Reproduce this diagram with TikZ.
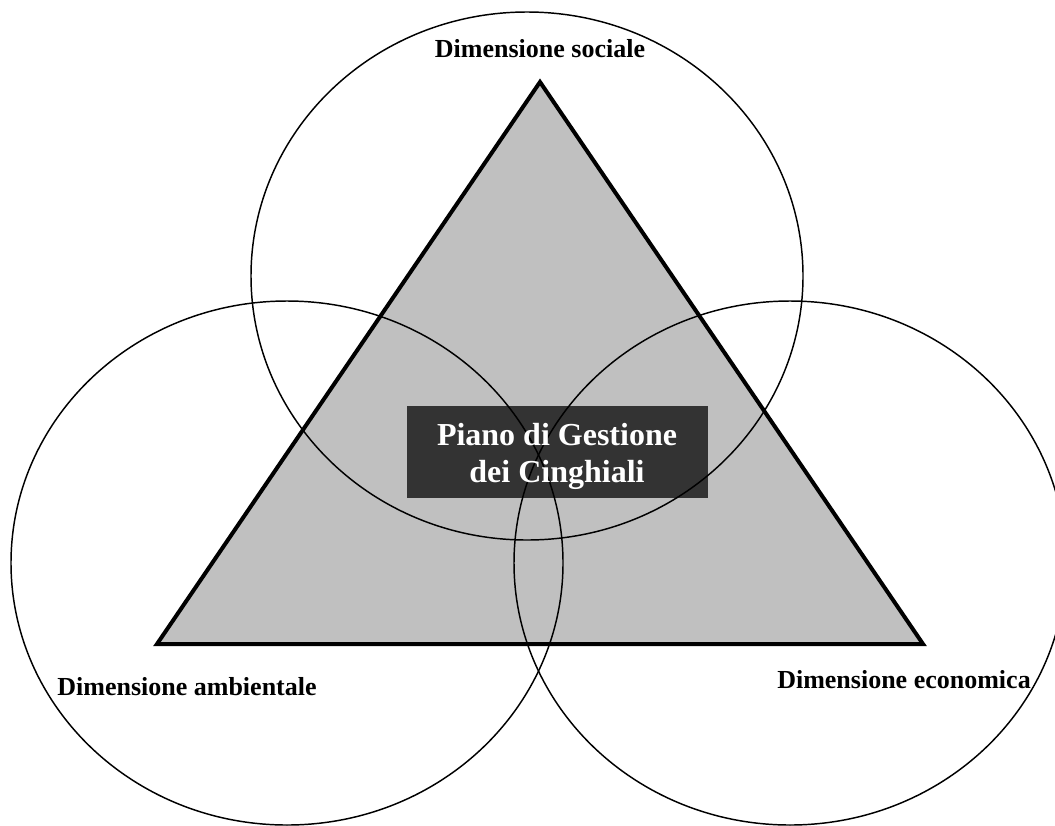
\documentclass[tikz,border=0pt]{standalone}
\usepackage{fontspec}
\setmainfont{Liberation Serif}
\usetikzlibrary{shapes.geometric}
\definecolor{trigray}{HTML}{C0C0C0}
\definecolor{boxgray}{HTML}{333333}
\begin{document}
\begin{tikzpicture}[x=0.75pt,y=-0.75pt,
  ring/.style={draw=black,line width=1.1pt},
  tri/.style={fill=trigray,draw=black,line width=3pt,line join=miter},
  dimlabel/.style={font=\bfseries\fontsize{19.5}{23}\selectfont,anchor=base,inner sep=0pt},
  darkbox/.style={fill=boxgray,draw=none,minimum width=225.75pt,minimum height=69pt,inner sep=0pt},
  title/.style={font=\bfseries\fontsize{24}{27.75}\selectfont,text=white,align=center,inner sep=0pt}]
\useasboundingbox (0,0) rectangle (1055,825);
\clip (0,0) rectangle (1055,825);
\coordinate (apex) at (540,82);
\coordinate (bl) at (157,644);
\coordinate (br) at (923,644);
\filldraw[tri] (apex) -- (bl) -- (br) -- cycle;
\node[darkbox] (box) at (557.5,452) {};
\draw[ring] (527,276) ellipse [x radius=276, y radius=264];
\draw[ring] (287,563) ellipse [x radius=276, y radius=262];
\draw[ring] (790,563) ellipse [x radius=276, y radius=262];
\node[title] (titletext) at (557,456) {Piano di Gestione\\dei Cinghiali};
\node[dimlabel] (sociale) at (540,57) {Dimensione sociale};
\node[dimlabel] (ambientale) at (187,695) {Dimensione ambientale};
\node[dimlabel] (economica) at (904,688) {Dimensione economica};
\end{tikzpicture}
\end{document}
